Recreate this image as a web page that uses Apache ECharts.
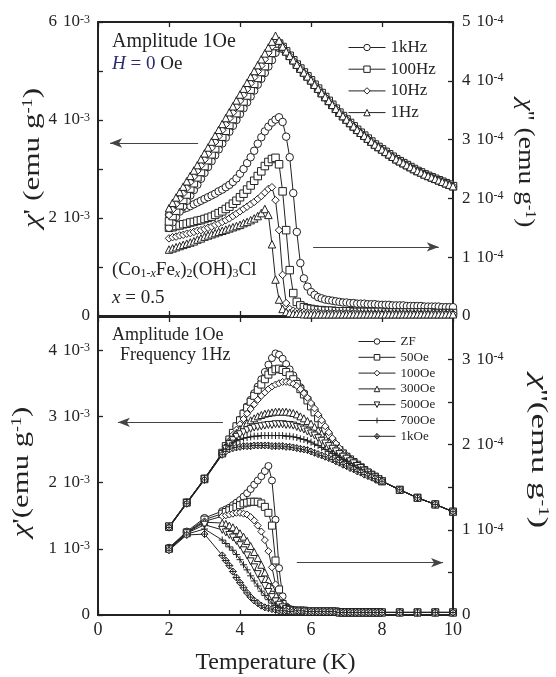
<!DOCTYPE html>
<html><head><meta charset="utf-8">
<script src="https://cdn.jsdelivr.net/npm/echarts@6/dist/echarts.min.js"></script>
<style>html,body{margin:0;padding:0;background:#fff}#c{width:556px;height:677px}</style>
</head><body><div id="c"></div>
<script>
// ---------------- DATA ----------------
// Top panel: temperature (K)
const T_top = [2.0,2.1,2.2,2.3,2.4,2.5,2.6,2.7,2.8,2.9,
  3.0,3.1,3.2,3.3,3.4,3.5,3.6,3.7,3.8,3.9,
  4.0,4.1,4.2,4.3,4.4,4.5,4.6,4.7,4.8,4.9,
  5.0,5.1,5.2,5.3,5.4,5.5,5.6,5.7,5.8,5.9,
  6.0,6.1,6.2,6.3,6.4,6.5,6.6,6.7,6.8,6.9,
  7.0,7.1,7.2,7.3,7.4,7.5,7.6,7.7,7.8,7.9,
  8.0,8.1,8.2,8.3,8.4,8.5,8.6,8.7,8.8,8.9,
  9.0,9.1,9.2,9.3,9.4,9.5,9.6,9.7,9.8,9.9,10.0];

// chi' (units 1e-3 emu/g), 2.0-5.2 K per frequency
const chi1_1Hz_low   = [2.2,2.31,2.42,2.53,2.64,2.75,2.86,2.97,3.08,3.2,3.32,3.44,3.56,3.68,3.8,3.92,4.04,4.16,4.28,4.4,4.52,4.64,4.76,4.88,5.0,5.12,5.24,5.36,5.48,5.6,5.72,5.62,5.5];
const chi1_10Hz_low  = [2.06,2.17,2.28,2.39,2.5,2.61,2.73,2.84,2.96,3.07,3.19,3.31,3.43,3.55,3.67,3.79,3.91,4.03,4.15,4.27,4.39,4.51,4.63,4.75,4.87,4.99,5.11,5.24,5.37,5.5,5.64,5.6,5.5];
const chi1_100Hz_low = [1.93,2.04,2.15,2.26,2.37,2.48,2.6,2.71,2.83,2.94,3.06,3.18,3.3,3.42,3.54,3.66,3.78,3.9,4.02,4.14,4.26,4.38,4.5,4.62,4.74,4.86,4.98,5.1,5.23,5.37,5.51,5.56,5.49];
const chi1_1kHz_low  = [1.8,1.91,2.02,2.13,2.24,2.35,2.46,2.57,2.68,2.8,2.92,3.04,3.16,3.28,3.4,3.52,3.64,3.76,3.88,4.0,4.12,4.24,4.36,4.48,4.6,4.72,4.84,4.96,5.09,5.22,5.37,5.47,5.45];
// chi' common paramagnetic tail 5.3-10.0 K
const chi1_tail = [5.4,5.31,5.22,5.13,5.05,4.97,4.89,
  4.81,4.72,4.64,4.55,4.47,4.39,4.31,4.23,4.15,4.08,
  4.01,3.94,3.87,3.8,3.74,3.68,3.62,3.56,3.5,3.45,
  3.4,3.35,3.3,3.25,3.2,3.16,3.12,3.08,3.04,3.0,
  2.96,2.93,2.89,2.86,2.83,2.8,2.77,2.74,2.71,2.68,2.65];

// chi'' (units 1e-4 emu/g), 2.0-10.0 K
const chi2_1kHz = [1.72,1.74,1.77,1.79,1.82,1.84,1.87,1.9,1.93,1.96,
  1.99,2.02,2.05,2.08,2.12,2.15,2.19,2.23,2.28,2.34,
  2.42,2.5,2.6,2.7,2.81,2.93,3.04,3.14,3.22,3.29,
  3.34,3.38,3.3,3.05,2.7,2.09,1.43,0.9,0.64,0.5,
  0.41,0.36,0.32,0.3,0.28,0.27,0.26,0.25,0.24,0.23,
  0.23,0.22,0.22,0.21,0.21,0.21,0.2,0.2,0.2,0.19,
  0.19,0.19,0.19,0.18,0.18,0.18,0.18,0.17,0.17,0.17,
  0.17,0.17,0.16,0.16,0.16,0.16,0.16,0.15,0.15,0.15,0.15];
const chi2_100Hz = [1.5,1.51,1.53,1.54,1.56,1.57,1.59,1.6,1.62,1.63,
  1.65,1.67,1.69,1.72,1.75,1.78,1.82,1.86,1.91,1.96,
  2.02,2.08,2.15,2.22,2.3,2.38,2.46,2.55,2.62,2.67,
  2.69,2.58,2.12,1.46,0.78,0.39,0.24,0.18,0.15,0.13,
  0.12,0.11,0.1,0.1,0.09,0.09,0.09,0.08,0.08,0.08,
  0.08,0.08,0.07,0.07,0.07,0.07,0.07,0.07,0.07,0.07,
  0.07,0.06,0.06,0.06,0.06,0.06,0.06,0.06,0.06,0.06,
  0.06,0.06,0.06,0.06,0.06,0.05,0.05,0.05,0.05,0.05,0.05];
const chi2_10Hz = [1.32,1.34,1.35,1.37,1.38,1.4,1.41,1.43,1.45,1.46,
  1.48,1.5,1.52,1.55,1.57,1.6,1.63,1.66,1.7,1.74,
  1.78,1.82,1.86,1.9,1.94,1.99,2.04,2.1,2.16,2.19,
  1.97,1.46,0.7,0.22,0.12,0.09,0.08,0.07,0.07,0.06,
  0.06,0.06,0.06,0.05,0.05,0.05,0.05,0.05,0.05,0.05,
  0.05,0.05,0.05,0.05,0.04,0.04,0.04,0.04,0.04,0.04,
  0.04,0.04,0.04,0.04,0.04,0.04,0.04,0.04,0.04,0.04,
  0.04,0.04,0.04,0.04,0.04,0.04,0.04,0.04,0.04,0.04,0.04];
const chi2_1Hz = [1.13,1.15,1.17,1.19,1.21,1.23,1.25,1.27,1.3,1.32,
  1.35,1.37,1.39,1.41,1.43,1.45,1.47,1.49,1.51,1.53,
  1.55,1.58,1.6,1.63,1.66,1.7,1.75,1.82,1.72,1.22,
  0.62,0.28,0.12,0.07,0.05,0.04,0.04,0.04,0.03,0.03,
  0.03,0.03,0.03,0.03,0.03,0.03,0.03,0.03,0.03,0.03,
  0.03,0.03,0.03,0.03,0.03,0.03,0.03,0.03,0.03,0.03,
  0.03,0.03,0.03,0.03,0.03,0.03,0.03,0.03,0.03,0.03,
  0.03,0.03,0.03,0.03,0.03,0.03,0.03,0.03,0.03,0.03,0.03];

// Bottom panel: temperature (K)
const T_bot = [2,2.5,3,3.5,
  3.6,3.7,3.8,3.9,4.0,4.1,4.2,4.3,4.4,4.5,4.6,4.7,4.8,4.9,5.0,5.1,5.2,5.3,5.4,5.5,
  5.6,5.7,5.8,5.9,6.0,6.1,6.2,6.3,6.4,6.5,6.6,6.7,6.8,6.9,7.0,7.1,7.2,7.3,7.4,7.5,
  7.6,7.7,7.8,7.9,8.0,
  8.5,9,9.5,10];
// chi' (1e-3) 2-8 K per field, then shared 8.5-10 K
const chiB1_ZF   = [1.33,1.70,2.06,2.45, 2.55,2.65,2.75,2.85,2.95,3.05,3.15,3.25,3.35,3.45,3.56,3.67,3.78,3.88,3.95,3.93,3.87,3.79,3.71,3.62, 3.53,3.44,3.35,3.26,3.17,3.07,2.97,2.87,2.77,2.68,2.6,2.53,2.47,2.42,2.38,2.34,2.3,2.26,2.22,2.18, 2.14,2.11,2.08,2.05,2.02];
const chiB1_50   = [1.34,1.70,2.06,2.45, 2.55,2.65,2.75,2.85,2.94,3.04,3.13,3.22,3.31,3.4,3.48,3.56,3.63,3.68,3.71,3.72,3.7,3.67,3.62,3.56, 3.49,3.41,3.33,3.24,3.15,3.06,2.97,2.88,2.79,2.7,2.62,2.55,2.49,2.44,2.39,2.35,2.31,2.27,2.23,2.19, 2.15,2.12,2.09,2.05,2.02];
const chiB1_100  = [1.33,1.69,2.06,2.44, 2.54,2.63,2.72,2.8,2.88,2.96,3.04,3.11,3.18,3.25,3.31,3.36,3.41,3.45,3.48,3.5,3.52,3.52,3.51,3.49, 3.46,3.41,3.35,3.28,3.2,3.12,3.03,2.94,2.85,2.76,2.67,2.59,2.52,2.46,2.41,2.36,2.32,2.27,2.23,2.19, 2.15,2.12,2.08,2.05,2.02];
const chiB1_300  = [1.33,1.70,2.05,2.44, 2.53,2.61,2.68,2.75,2.81,2.86,2.9,2.94,2.97,3.0,3.02,3.04,3.05,3.06,3.07,3.07,3.07,3.07,3.06,3.05, 3.03,3.0,2.97,2.93,2.89,2.84,2.79,2.74,2.68,2.62,2.57,2.52,2.47,2.43,2.39,2.35,2.31,2.27,2.23,2.19, 2.15,2.11,2.08,2.05,2.02];
const chiB1_500  = [1.32,1.69,2.05,2.43, 2.51,2.58,2.64,2.69,2.73,2.76,2.79,2.81,2.83,2.84,2.85,2.86,2.87,2.87,2.88,2.88,2.88,2.87,2.87,2.86, 2.84,2.82,2.8,2.77,2.74,2.71,2.67,2.63,2.59,2.55,2.51,2.47,2.43,2.39,2.36,2.32,2.29,2.25,2.22,2.18, 2.15,2.11,2.08,2.05,2.02];
const chiB1_700  = [1.32,1.69,2.05,2.43, 2.5,2.55,2.6,2.63,2.65,2.67,2.68,2.69,2.7,2.7,2.71,2.71,2.71,2.71,2.71,2.71,2.71,2.7,2.7,2.69, 2.68,2.66,2.65,2.63,2.61,2.58,2.56,2.53,2.5,2.47,2.44,2.41,2.38,2.35,2.32,2.29,2.26,2.23,2.2,2.17, 2.14,2.11,2.08,2.05,2.02];
const chiB1_1k   = [1.32,1.68,2.04,2.42, 2.47,2.5,2.52,2.53,2.54,2.55,2.55,2.55,2.56,2.56,2.56,2.56,2.56,2.55,2.55,2.55,2.55,2.54,2.54,2.53, 2.52,2.51,2.5,2.49,2.47,2.45,2.43,2.41,2.39,2.37,2.35,2.32,2.3,2.27,2.25,2.22,2.2,2.17,2.15,2.12, 2.1,2.08,2.06,2.04,2.02];
const chiB1_tail = [1.89,1.77,1.67,1.56];
// chi'' (1e-4) 2-5.5 K per field, then shared 5.6-10 K
const chiB2_ZF  = [0.79,0.98,1.14,1.22,1.24,1.26,1.29,1.32,1.35,1.39,1.43,1.48,1.53,1.58,1.63,1.69,1.75,1.58,1.12,0.55,0.22,0.1,0.07,0.06];
const chiB2_50  = [0.78,0.97,1.12,1.19,1.21,1.23,1.25,1.27,1.29,1.31,1.32,1.33,1.33,1.33,1.31,1.27,1.2,1.05,0.64,0.3,0.13,0.08,0.06,0.05];
const chiB2_100 = [0.78,0.97,1.1,1.16,1.17,1.18,1.19,1.2,1.2,1.19,1.18,1.15,1.11,1.05,0.98,0.88,0.75,0.56,0.36,0.19,0.1,0.07,0.05,0.05];
const chiB2_300 = [0.78,0.96,1.09,1.08,1.07,1.05,1.03,1.0,0.96,0.92,0.87,0.81,0.74,0.67,0.59,0.5,0.41,0.32,0.24,0.17,0.12,0.09,0.07,0.06];
const chiB2_500 = [0.77,0.96,1.06,1.0,0.97,0.94,0.91,0.87,0.82,0.76,0.7,0.63,0.56,0.48,0.41,0.34,0.27,0.21,0.16,0.12,0.09,0.07,0.06,0.05];
const chiB2_700 = [0.77,0.95,1.01,0.88,0.84,0.8,0.76,0.71,0.65,0.59,0.53,0.46,0.4,0.34,0.28,0.23,0.18,0.14,0.11,0.09,0.07,0.06,0.05,0.05];
const chiB2_1k  = [0.76,0.94,0.95,0.7,0.64,0.58,0.51,0.44,0.38,0.32,0.26,0.21,0.17,0.14,0.11,0.09,0.08,0.07,0.06,0.05,0.05,0.05,0.04,0.04];
const chiB2_tail = [0.05,0.05,0.05,0.04,0.04,0.04,0.04,0.04,0.04,0.04,0.04,0.04,0.03,0.03,0.03,0.03,0.03,0.03,0.03,0.03,0.03,0.03,0.03,0.03,0.03, 0.03,0.03,0.03,0.03];

// Legend / series names
const topNames = ['1kHz','100Hz','10Hz','1Hz'];
const botNames = ['ZF','50Oe','100Oe','300Oe','500Oe','700Oe','1kOe'];
// Arrow annotations [xFrom, xTo, y] in data units (left axis)
const arrowsTop = [[2.82,0.34,3.53],[6.06,9.6,1.41]];
const arrowsBot = [[3.52,0.56,2.91],[5.6,9.72,0.79]];

// ---------------- CHART ----------------
const FF = "'Liberation Serif','Times New Roman',serif";
const INK = '#222';
const SYM = {
  circle:'circle', square:'rect', diamond:'diamond', triangle:'triangle',
  down:'path://M0,0L10,0L5,9Z',
  plus:'path://M5,0L5,10M0,5L10,5',
  cross:'path://M5,0L10,5L5,10L0,5ZM5,0L5,10M0,5L10,5'
};
const topSym = [SYM.circle, SYM.square, SYM.diamond, SYM.triangle];
const botSym = [SYM.circle, SYM.square, SYM.diamond, SYM.triangle, SYM.down, SYM.plus, SYM.cross];

function zip(xs, ys){ return xs.map((x,i)=>[x, ys[i]]); }
function ser(name, xs, ys, sym, xi, yi, size){
  return {name, type:'line', xAxisIndex:xi, yAxisIndex:yi, data:zip(xs,ys),
    symbol:sym, symbolSize:size||7, showSymbol:true,
    lineStyle:{color:INK, width:1}, itemStyle:{color:'#fff', borderColor:INK, borderWidth:1},
    emphasis:{disabled:true}, animation:false};
}
function arrowML(list){
  return {silent:true, symbol:['none','arrow'], symbolSize:[7,12], animation:false,
    lineStyle:{color:'#444', width:1.2, type:'solid'}, label:{show:false},
    data:list.map(a=>[{coord:[a[0],a[2]]},{coord:[a[1],a[2]]}])};
}

const topChi1 = [chi1_1kHz_low, chi1_100Hz_low, chi1_10Hz_low, chi1_1Hz_low].map(a=>a.concat(chi1_tail));
const topChi2 = [chi2_1kHz, chi2_100Hz, chi2_10Hz, chi2_1Hz];
const botChi1 = [chiB1_ZF,chiB1_50,chiB1_100,chiB1_300,chiB1_500,chiB1_700,chiB1_1k].map(a=>a.concat(chiB1_tail));
const botChi2 = [chiB2_ZF,chiB2_50,chiB2_100,chiB2_300,chiB2_500,chiB2_700,chiB2_1k].map(a=>a.concat(chiB2_tail));

const series = [];
topNames.forEach((n,i)=>{ series.push(ser(n, T_top, topChi2[i], topSym[i], 0, 1, 7.5)); });
topNames.forEach((n,i)=>{ series.push(ser(n, T_top, topChi1[i], topSym[i], 0, 0, 7.5)); });
botNames.forEach((n,i)=>{ series.push(ser(n, T_bot, botChi2[i], botSym[i], 2, 3)); });
botNames.forEach((n,i)=>{ series.push(ser(n, T_bot, botChi1[i], botSym[i], 2, 2)); });
series[4].markLine = arrowML(arrowsTop);
series[8+7].markLine = arrowML(arrowsBot);

const labRich = {
  m:{fontFamily:FF, fontSize:17, color:INK, padding:[0,6,0,0]},
  b:{fontFamily:FF, fontSize:17, color:INK},
  s:{fontFamily:FF, fontSize:12, color:INK, verticalAlign:'top'}
};
function expFmt(exp, every){
  return v => {
    if (Math.abs(v) < 1e-9) return '{b|0}';
    if (Math.abs(v/every - Math.round(v/every)) > 1e-6) return '';
    return '{m|' + v + '}{b|10}{s|-' + exp + '}';
  };
}
const axLine = {show:true, onZero:false, lineStyle:{color:INK, width:2}};
const axTick = {show:true, inside:true, length:5, lineStyle:{color:INK, width:1.3}};
function xAx(grid, pos, labels){
  return {type:'value', gridIndex:grid, position:pos, min:0, max:10, interval:2,
    axisLine:axLine, axisTick:axTick, splitLine:{show:false},
    axisLabel:{show:labels, fontFamily:FF, fontSize:18, color:INK, margin:6},
    name: labels ? 'Temperature (K)' : '', nameLocation:'middle', nameGap:36,
    nameTextStyle:{fontFamily:FF, fontSize:24, color:INK}};
}
function yAx(grid, pos, max, interval, exp, every, margin){
  return {type:'value', gridIndex:grid, position:pos, min:0, max, interval,
    axisLine:axLine, axisTick:axTick, splitLine:{show:false},
    axisLabel:{show:true, margin, formatter:expFmt(exp, every), rich:labRich, showMaxLabel: (max % every === 0)}};
}

function txt(x, y, text, rich, extra){
  return Object.assign({type:'text', x, y, silent:true,
    style:{text, rich, fontFamily:FF, fontSize:19, fill:INK, align:'left', verticalAlign:'middle'}}, extra||{});
}
const R = (fs)=>({
  n:{fontFamily:FF, fontSize:fs, fill:INK},
  i:{fontFamily:FF, fontSize:fs, fill:INK, fontStyle:'italic'},
  hi:{fontFamily:FF, fontSize:fs, fill:'#2b2b6e', fontStyle:'italic'},
  hb:{fontFamily:FF, fontSize:fs, fill:'#2b2b6e'},
  sb:{fontFamily:FF, fontSize:Math.round(fs*0.62), fill:INK, verticalAlign:'bottom'},
  sbi:{fontFamily:FF, fontSize:Math.round(fs*0.62), fill:INK, fontStyle:'italic', verticalAlign:'bottom'},
  sp:{fontFamily:FF, fontSize:Math.round(fs*0.6), fill:INK, verticalAlign:'top'}
});
function ytitle(x, y, primes, rot, sx, fs){
  return {type:'text', x, y, rotation:rot, scaleX:sx, silent:true,
    style:{text:'{i|χ}{n|' + primes + '}{n|(emu g}{sp|-1}{n|)}', rich:R(fs), align:'center', verticalAlign:'middle'}};
}

const option = {
  animation:false,
  backgroundColor:'#fff',
  grid:[{left:98, top:22, width:355, height:294}, {left:98, top:317, width:355, height:298}],
  xAxis:[xAx(0,'bottom',false), xAx(0,'top',false), xAx(1,'bottom',true), xAx(1,'top',false)],
  yAxis:[yAx(0,'left',6,1,3,2,8), yAx(0,'right',5,1,4,1,9), yAx(1,'left',4.5,1,3,1,8), yAx(1,'right',3.5,0.5,4,1,9)],
  legend:[
    {data:topNames, orient:'vertical', left:343, top:34, itemWidth:37, itemHeight:8, itemGap:4.7,
     selectedMode:false, lineStyle:{width:1, color:INK}, itemStyle:{borderWidth:1},
     textStyle:{fontFamily:FF, fontSize:17, color:INK, lineHeight:17}},
    {data:botNames, orient:'vertical', left:353, top:330, itemWidth:37, itemHeight:7, itemGap:2.8,
     selectedMode:false, lineStyle:{width:1, color:INK}, itemStyle:{borderWidth:1},
     textStyle:{fontFamily:FF, fontSize:13, color:INK, lineHeight:13}}
  ],
  series,
  graphic:[
    txt(112, 42, '{n|Amplitude 1Oe}', R(20)),
    txt(112, 64, '{hi|H}{hb| = 0}{n| Oe}', R(19)),
    txt(112, 270, '{n|(Co}{sb|1-}{sbi|x}{n|Fe}{sbi|x}{n|)}{sb|2}{n|(OH)}{sb|3}{n|Cl}', R(19)),
    txt(112, 298, '{i|x}{n| = 0.5}', R(19)),
    txt(112, 335, '{n|Amplitude 1Oe}', R(18)),
    txt(120, 355, '{n|Frequency 1Hz}', R(18)),
    ytitle(33, 158, "' ", Math.PI/2, 1.3, 24),
    ytitle(525, 163, "'' ", -Math.PI/2, 1.15, 24),
    ytitle(22, 472, "'", Math.PI/2, 1.28, 24),
    ytitle(538, 451, "''", -Math.PI/2, 1.45, 24)
  ]
};
const chart = echarts.init(document.getElementById('c'), null, {renderer:'canvas'});
chart.setOption(option);
</script></body></html>
